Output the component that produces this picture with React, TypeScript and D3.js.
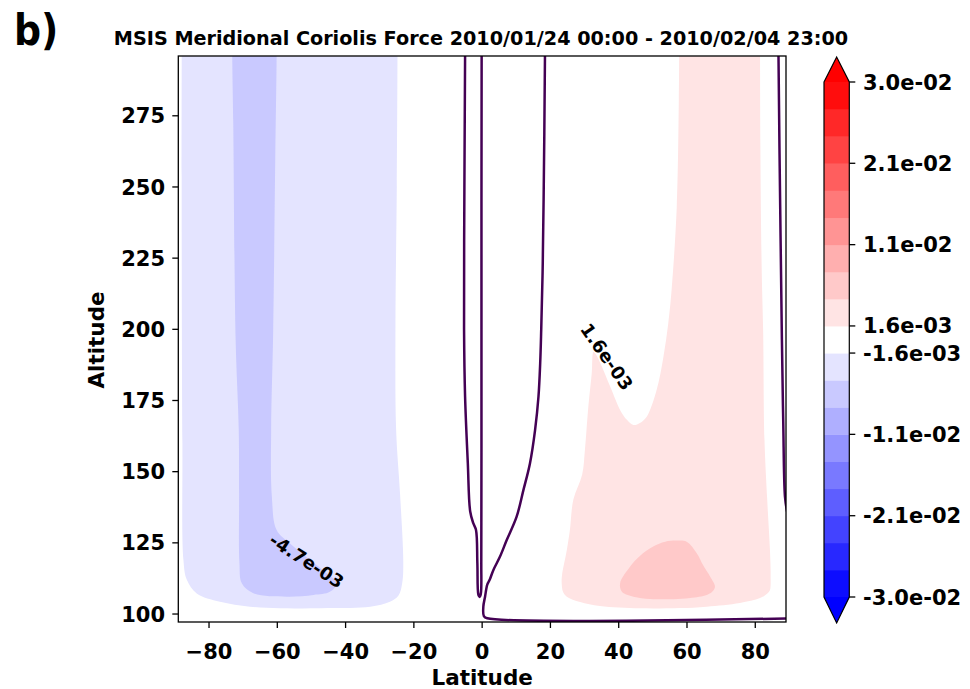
import React from 'react';
import * as d3 from 'd3';

const W = 970;
const H = 689;

// axes
const latTicks = [-80, -60, -40, -20, 0, 20, 40, 60, 80];
const altTicks = [100, 125, 150, 175, 200, 225, 250, 275];
const latDomain = [-89, 89];
const altDomain = [97.2, 296];

// contour levels (linspace -0.03 .. 0.03, 20 levels)
const levels = [
  -0.03, -0.02684, -0.02368, -0.02053, -0.01737, -0.01421, -0.01105, -0.00789, -0.00474, -0.00158,
  0.00158, 0.00474, 0.00789, 0.01105, 0.01421, 0.01737, 0.02053, 0.02368, 0.02684, 0.03,
];
const cbTickValues = [-0.03, -0.02053, -0.01105, -0.00158, 0.00158, 0.01105, 0.02053, 0.03];
const cbTickLabels = ['-3.0e-02', '-2.1e-02', '-1.1e-02', '-1.6e-03', '1.6e-03', '1.1e-02', '2.1e-02', '3.0e-02'];

type P = [number, number];

// filled contour regions, [latitude, altitude]
const blueBand1: P[] = [
  [-88.0, 312], [-88.0, 296], [-88.0, 230], [-87.8, 160], [-87.5, 119], [-86.5, 112], [-83.6, 107.2],
  [-76.8, 104.3], [-68, 102.6], [-59.2, 102.0], [-45, 102.1], [-32.8, 102.6], [-27.0, 104.3], [-24.5, 106.5],
  [-23.4, 111], [-23.1, 118], [-24.0, 141.3], [-25.2, 164.8], [-25.4, 199.8], [-25.0, 250], [-24.8, 296],
  [-24.8, 312],
];
const blueBand2: P[] = [
  [-73.2, 312], [-73.2, 296], [-72.9, 272], [-72.2, 196], [-71.3, 165], [-71.2, 141], [-71.1, 118],
  [-70.4, 110.8], [-67.0, 107.3], [-57.2, 106.1], [-49.4, 106.7], [-44.6, 107.8], [-42.6, 110.8],
  [-45.5, 114.3], [-50.4, 119.0], [-56.3, 124.8], [-60.2, 129.5], [-61.6, 141.2], [-61.8, 164.8],
  [-61.2, 199.8], [-60.6, 260], [-60.2, 296], [-60.2, 312],
];
const redBand1: P[] = [
  [57.7, 312], [57.7, 296], [57.6, 280], [57.0, 243], [55.5, 214], [54.5, 202], [53.1, 190.4],
  [51.1, 178.7], [48.2, 169.3], [46.2, 167.1], [44.3, 166.4], [42.4, 168.2], [40.4, 171.7], [37.5, 179.9],
  [34.6, 188.2], [33.3, 191.2], [32.6, 192.1], [32.1, 184.6], [31.1, 172.8], [30.1, 157.6], [29.3, 149],
  [26.7, 140.1], [25.7, 129.5], [24.8, 122.5], [23.4, 113.7], [23.3, 110.8], [23.7, 107.7], [24.8, 106.1],
  [28.7, 104.2], [34.5, 102.8], [46.2, 102.0], [57.9, 102.1], [65.8, 102.6], [75.5, 103.9], [81.4, 105.6],
  [83.7, 107.4], [84.3, 108.4], [84.5, 113.7], [84.3, 122.5], [83.5, 140.1], [82.7, 161.1], [82.3, 199.8],
  [81.9, 219.8], [81.5, 263], [81.4, 296], [81.4, 312],
];
const redBand2: P[] = [
  [40.4, 110.8], [43.3, 116.6], [46.2, 120.4], [50.1, 123.7], [53.6, 125.4], [57.0, 125.8], [59.9, 125.4],
  [62.9, 121.3], [64.7, 117.2], [66.8, 113.1], [68.2, 109.6], [67.3, 107.7], [65.8, 106.7], [60.9, 105.6],
  [56.0, 105.2], [49.2, 105.3], [44.3, 106.1], [41.0, 107.7],
];

// contour lines, [latitude, altitude]
const lineV: P[] = [
  [-5.0, 310], [-5.0, 296], [-5.2, 250], [-5.3, 200], [-5.0, 176.4], [-4.2, 153.0], [-3.5, 136],
  [-2.6, 131.9], [-1.8, 129.5], [-1.4, 117.8], [-1.1, 106.7], [-0.75, 106.0], [-0.4, 107.0], [-0.25, 119],
  [-0.2, 175], [-0.2, 245], [-0.15, 296], [-0.15, 310],
];
const lineB: P[] = [
  [18.4, 310], [18.4, 296], [18.0, 245.4], [17.7, 219.8], [17.3, 199.8], [17.0, 188.1], [16.5, 176.4],
  [15.5, 164.6], [14.0, 152.9], [12.1, 143.6], [10.1, 134.2], [7.2, 126.0], [5.2, 120.1], [3.3, 115.5],
  [2.2, 112], [1.5, 110.3], [0.85, 106.1], [0.35, 102.6], [0.5, 99.3], [1.5, 98.5], [91, 98.5],
];
const lineC: P[] = [
  [86.8, 310], [86.8, 296], [87.3, 243], [87.8, 196.3], [88.2, 167.1], [88.7, 141.2], [89.3, 136],
];

const contourLabels = [
  { text: '-4.7e-03', lat: -51.4, alt: 118.7, angle: 33 },
  { text: '1.6e-03', lat: 36.5, alt: 190.4, angle: 55 },
];

const FONT = '"DejaVu Sans", sans-serif';
const LINE_COLOR = '#440154';

export default function App() {
  const x = d3.scaleLinear().domain(latDomain).range([178.3, 786]);
  const y = d3.scaleLinear().domain(altDomain).range([622, 56]);
  const cmap = d3
    .scaleLinear<string>()
    .domain([-0.03, 0, 0.03])
    .range(['#0000ff', '#ffffff', '#ff0000'])
    .interpolate(d3.interpolateRgb);
  const area = d3
    .line<P>()
    .x((d) => x(d[0]))
    .y((d) => y(d[1]))
    .curve(d3.curveCatmullRomClosed.alpha(0.5));
  const line = d3
    .line<P>()
    .x((d) => x(d[0]))
    .y((d) => y(d[1]))
    .curve(d3.curveCatmullRom.alpha(0.5));

  const bandColor = (lo: number, hi: number) => cmap((lo + hi) / 2);
  const regions = [
    { pts: blueBand1, lo: levels[8], hi: levels[9] },
    { pts: blueBand2, lo: levels[7], hi: levels[8] },
    { pts: redBand1, lo: levels[10], hi: levels[11] },
    { pts: redBand2, lo: levels[11], hi: levels[12] },
  ];

  const [x0, x1] = x.range();
  const [yb, yt] = y.range();

  // colorbar
  const cbX0 = 824;
  const cbX1 = 849.3;
  const cb = d3.scaleLinear().domain([levels[0], levels[levels.length - 1]]).range([597, 82]);
  const cbMid = (cbX0 + cbX1) / 2;

  return (
    <svg
      width={W}
      height={H}
      viewBox={`0 0 ${W} ${H}`}
      style={{ position: 'absolute', left: 0, top: 0, background: '#fff' }}
      fontFamily={FONT}
      fontWeight="bold"
    >
      <defs>
        <clipPath id="plotClip">
          <rect x={x0} y={yt} width={x1 - x0} height={yb - yt} />
        </clipPath>
      </defs>
      <rect x={0} y={0} width={W} height={H} fill="#fff" />

      {/* panel letter */}
      <text transform="translate(14,45) scale(0.88,1)" fontSize={43} fill="#000">
        b)
      </text>

      {/* title */}
      <text x={481} y={45} fontSize={19.2} textAnchor="middle" fill="#000">
        MSIS Meridional Coriolis Force 2010/01/24 00:00 - 2010/02/04 23:00
      </text>

      {/* plot area */}
      <g clipPath="url(#plotClip)">
        <rect x={x0} y={yt} width={x1 - x0} height={yb - yt} fill="#fff" />
        {regions.map((r, i) => (
          <path key={i} d={area(r.pts) || ''} fill={bandColor(r.lo, r.hi)} stroke="none" />
        ))}
        {[lineV, lineB, lineC].map((l, i) => (
          <path key={i} d={line(l) || ''} fill="none" stroke={LINE_COLOR} strokeWidth={2.5} strokeLinejoin="round" />
        ))}
      </g>
      {contourLabels.map((c, i) => (
        <text
          key={i}
          transform={`translate(${x(c.lat)},${y(c.alt)}) rotate(${c.angle})`}
          fontSize={18}
          textAnchor="middle"
          dy="0.36em"
          fill="#000"
        >
          {c.text}
        </text>
      ))}

      {/* frame */}
      <rect x={x0} y={yt} width={x1 - x0} height={yb - yt} fill="none" stroke="#000" strokeWidth={1.3} />

      {/* x axis */}
      {latTicks.map((t) => (
        <g key={t}>
          <line x1={x(t)} x2={x(t)} y1={yb} y2={yb + 6} stroke="#000" strokeWidth={1.3} />
          <text x={x(t)} y={659} fontSize={21} textAnchor="middle" fill="#000">
            {t < 0 ? `\u2212${Math.abs(t)}` : `${t}`}
          </text>
        </g>
      ))}
      <text x={(x0 + x1) / 2} y={685} fontSize={21.5} textAnchor="middle" fill="#000">
        Latitude
      </text>

      {/* y axis */}
      {altTicks.map((t) => (
        <g key={t}>
          <line x1={x0 - 6} x2={x0} y1={y(t)} y2={y(t)} stroke="#000" strokeWidth={1.3} />
          <text x={165} y={y(t)} dy="0.36em" fontSize={21} textAnchor="end" fill="#000">
            {t}
          </text>
        </g>
      ))}
      <text transform={`translate(104,340) rotate(-90)`} fontSize={21.5} textAnchor="middle" fill="#000">
        Altitude
      </text>

      {/* colorbar */}
      {levels.slice(0, -1).map((lo, i) => {
        const hi = levels[i + 1];
        return (
          <rect
            key={i}
            x={cbX0}
            y={cb(hi)}
            width={cbX1 - cbX0}
            height={cb(lo) - cb(hi) + 0.5}
            fill={bandColor(lo, hi)}
          />
        );
      })}
      <path d={`M${cbX0},${cb(0.03)} L${cbMid},57 L${cbX1},${cb(0.03)} Z`} fill={cmap(0.03)} />
      <path d={`M${cbX0},${cb(-0.03)} L${cbMid},623 L${cbX1},${cb(-0.03)} Z`} fill={cmap(-0.03)} />
      <path
        d={`M${cbX0},${cb(0.03)} L${cbMid},57 L${cbX1},${cb(0.03)} L${cbX1},${cb(-0.03)} L${cbMid},623 L${cbX0},${cb(-0.03)} Z`}
        fill="none"
        stroke="#000"
        strokeWidth={1.2}
      />
      {cbTickValues.map((v, i) => (
        <g key={i}>
          <line x1={cbX1} x2={cbX1 + 6} y1={cb(v)} y2={cb(v)} stroke="#000" strokeWidth={1.3} />
          <text x={863} y={cb(v)} dy="0.36em" fontSize={21} textAnchor="start" fill="#000">
            {cbTickLabels[i]}
          </text>
        </g>
      ))}
    </svg>
  );
}
